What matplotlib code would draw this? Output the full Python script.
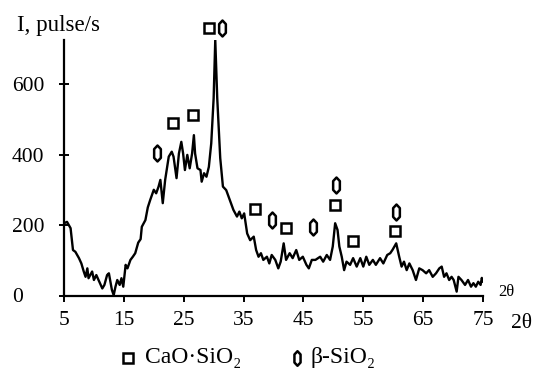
import matplotlib
matplotlib.use("Agg")
import matplotlib.pyplot as plt
from matplotlib.path import Path

# diffraction pattern (2theta, intensity in pulse/s)
two_theta = [5.0, 5.5, 6.1, 6.5, 6.9, 7.5, 7.9, 8.3, 8.6, 8.9, 9.1, 9.7, 10.0, 10.4,
             11.0, 11.4, 11.75, 12.2, 12.5, 12.8, 13.0, 13.3, 13.6, 13.9, 14.3, 14.6,
             14.9, 15.3, 15.6, 16.1, 16.5, 16.9, 17.4, 17.8, 18.0, 18.6, 19.0, 19.4,
             20.0, 20.4, 20.8, 21.1, 21.5, 21.9, 22.5, 23.0, 23.3, 23.8, 24.2, 24.6,
             24.9, 25.2, 25.6, 26.0, 26.4, 26.7, 26.9, 27.3, 27.8, 28.0, 28.4, 28.8,
             29.2, 29.6, 30.0, 30.27, 30.6, 31.1, 31.55, 32.1, 32.7, 33.3, 33.9, 34.3,
             34.7, 35.1, 35.6, 36.1, 36.7, 37.1, 37.5, 37.9, 38.3, 38.9, 39.3, 39.7,
             40.3, 40.8, 41.2, 41.7, 42.1, 42.7, 43.2, 43.8, 44.3, 44.9, 45.5, 45.9,
             46.4, 47.0, 47.8, 48.3, 48.9, 49.45, 49.9, 50.3, 50.7, 51.0, 51.4, 51.8,
             52.2, 52.8, 53.3, 53.9, 54.5, 55.0, 55.5, 56.0, 56.6, 57.1, 57.8, 58.35,
             59.0, 59.5, 59.9, 60.5, 61.0, 61.4, 61.8, 62.25, 62.7, 63.25, 63.8, 64.35,
             64.9, 65.5, 66.0, 66.6, 67.15, 67.7, 68.1, 68.5, 68.9, 69.35, 69.75, 70.1,
             70.6, 70.9, 71.4, 72.0, 72.5, 73.0, 73.4, 73.8, 74.2, 74.6, 74.8, 75.0]
intensity = [205, 209, 191, 129, 124, 106, 91, 68, 53, 77, 49, 68, 44, 58,
             35, 20, 30, 58, 63, 35, 16, 1, 25, 44, 30, 49,
             25, 87, 77, 101, 110, 120, 150, 160, 195, 214, 250, 271,
             300, 290, 309, 328, 262, 328, 394, 408, 394, 333, 403, 436,
             403, 356, 399, 361, 403, 455, 403, 361, 356, 323, 347, 337,
             365, 432, 560, 725, 560, 390, 309, 299, 271, 243, 224, 238,
             219, 233, 176, 157, 167, 129, 110, 120, 101, 110, 91, 115,
             101, 77, 96, 148, 101, 120, 106, 129, 101, 110, 87, 77,
             101, 101, 110, 96, 115, 101, 139, 205, 186, 139, 110, 72,
             96, 87, 106, 82, 106, 82, 110, 87, 101, 87, 106, 91,
             115, 120, 130, 148, 110, 82, 96, 72, 91, 72, 44, 77,
             72, 63, 72, 53, 63, 77, 82, 53, 63, 44, 53, 44,
             11, 53, 44, 30, 44, 25, 35, 25, 39, 30, 50, 40]

# phase labels
cao_x = [23.2, 26.5, 29.15, 36.9, 42.1, 50.3, 53.2, 60.3]
cao_y = [490, 512, 760, 245, 192, 257, 156, 184]
sio2_x = [20.55, 31.4, 39.7, 46.65, 50.4, 60.5]
sio2_y = [403, 758, 213, 193, 313, 238]

x_ticks = [5, 15, 25, 35, 45, 55, 65, 75]
y_ticks = [0, 200, 400, 600]

SERIF = ["Liberation Serif", "DejaVu Serif"]
plt.rcParams["font.family"] = SERIF

# elongated hexagon used for beta-SiO2
hexa = Path([(0, 1), (0.42, 0.55), (0.42, -0.55), (0, -1), (-0.42, -0.55),
             (-0.42, 0.55), (0, 1)],
            [Path.MOVETO] + [Path.LINETO] * 5 + [Path.CLOSEPOLY])

fig = plt.figure(figsize=(5.4, 3.72), dpi=100)
ax = fig.add_axes([64 / 540, 1 - 295.5 / 372, 419 / 540, 255.5 / 372])

ax.plot(two_theta, intensity, color="black", lw=1.7)
ax.plot(cao_x, cao_y, ls="none", marker="s", ms=7.5, mfc="white", mec="black",
        mew=1.8, clip_on=False)
ax.plot(sio2_x, sio2_y, ls="none", marker=hexa, ms=11.5, mfc="white", mec="black",
        mew=1.8, clip_on=False)

ax.set_xlim(5, 75)
ax.set_ylim(0, 725)
ax.spines[["top", "right"]].set_visible(False)
for s in ("left", "bottom"):
    ax.spines[s].set_linewidth(1.6)

ax.set_xticks(x_ticks)
ax.set_yticks(y_ticks)
ax.tick_params(axis="x", direction="out", length=4, width=1.4, labelsize=15.5, pad=7)
ax.tick_params(axis="y", direction="inout", length=7, width=1.4, labelsize=15.5, pad=34)
for lbl in ax.get_yticklabels():
    lbl.set_ha("left")

fig.text(17 / 540, 1 - 25 / 372, "I, pulse/s", fontsize=16.5, va="center", ha="left")
fig.text(506 / 540, 1 - 292 / 372, "2θ", fontsize=12, va="center", ha="center")
fig.text(521 / 540, 1 - 323 / 372, "2θ", fontsize=15.5, va="center", ha="center")

# legend row under the chart
fig.lines.append(plt.Line2D([127.5 / 540], [1 - 358 / 372], transform=fig.transFigure,
                            ls="none", marker="s", ms=7, mfc="white", mec="black", mew=1.8))
fig.text(145 / 540, 1 - 357 / 372, "CaO·SiO₂", fontsize=17, va="center", ha="left")
fig.lines.append(plt.Line2D([297 / 540], [1 - 358 / 372], transform=fig.transFigure,
                            ls="none", marker=hexa, ms=10.5, mfc="white", mec="black", mew=1.8))
fig.text(310 / 540, 1 - 357 / 372, "β-SiO₂", fontsize=17, va="center", ha="left")

fig.savefig("out.png", dpi=100)
